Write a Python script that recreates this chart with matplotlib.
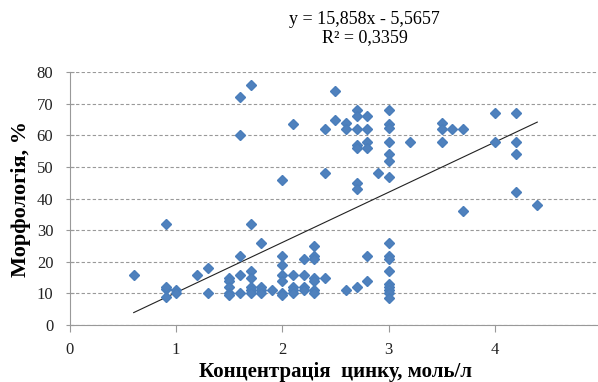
import numpy as np
import matplotlib.pyplot as plt

# concentration of zinc, mol/l
zinc = [0.6, 0.9, 0.9, 0.9, 0.9, 1.0, 1.0, 1.2, 1.3, 1.3,
        1.5, 1.5, 1.5, 1.5, 1.5,
        1.6, 1.6, 1.6, 1.6, 1.6,
        1.7, 1.7, 1.7, 1.7, 1.7, 1.7, 1.7,
        1.8, 1.8, 1.8, 1.8, 1.9,
        2.0, 2.0, 2.0, 2.0, 2.0, 2.0, 2.0,
        2.1, 2.1, 2.1, 2.1, 2.1,
        2.2, 2.2, 2.2, 2.2,
        2.3, 2.3, 2.3, 2.3, 2.3, 2.3, 2.3,
        2.4, 2.4, 2.4, 2.5, 2.5, 2.6, 2.6, 2.6,
        2.7, 2.7, 2.7, 2.7, 2.7, 2.7, 2.7, 2.7,
        2.8, 2.8, 2.8, 2.8, 2.8, 2.8, 2.9,
        3.0, 3.0, 3.0, 3.0, 3.0, 3.0, 3.0, 3.0, 3.0, 3.0,
        3.0, 3.0, 3.0, 3.0, 3.0, 3.0,
        3.2, 3.5, 3.5, 3.5, 3.6, 3.7, 3.7,
        4.0, 4.0, 4.2, 4.2, 4.2, 4.2, 4.4]

# morphology, %
morph = [16, 32, 11.5, 12, 9, 11, 10, 16, 18, 10,
         15, 14, 12, 10, 9.5,
         72, 60, 22, 16, 10,
         76, 32, 17, 15, 12, 11, 10,
         26, 12, 11, 10, 11,
         22, 19, 16, 14, 10, 9.5, 46,
         63.5, 16, 12, 11, 10,
         21, 16, 12, 11,
         25, 22, 21, 15, 14, 11, 10,
         15, 62, 48, 74, 65, 64, 62, 11,
         68, 66, 62, 57, 56, 45, 43, 12,
         66, 62, 58, 56, 22, 14, 48,
         68, 63.5, 62.5, 58, 54, 52, 47, 26,
         22, 21, 17, 13, 12, 11, 10, 8.5,
         58, 64, 62, 58, 62, 62, 36,
         67, 58, 67, 58, 54, 42, 38]

slope, intercept, r2 = 15.858, -5.5657, 0.3359

plt.rcParams['font.family'] = ['Liberation Serif', 'DejaVu Serif']

fig = plt.figure(figsize=(5.98, 3.82), dpi=100)
ax = fig.add_axes([0.117, 0.149, 0.888, 0.662])

ax.plot(zinc, morph, 'D', color='#4f81bd', ms=5, mec='#4a7ebb', zorder=3)

xl = np.array([min(zinc), max(zinc)])
ax.plot(xl, slope * xl + intercept, color='#222222', lw=0.8, zorder=2)

ax.set_xlim(0, 5)
ax.set_ylim(0, 80)
ax.set_xticks(range(0, 6))
ax.set_yticks(range(0, 81, 10))
ax.yaxis.grid(True, linestyle=(0, (3, 2)), color='#999999', lw=0.8)
ax.set_axisbelow(True)
for s in ['top', 'right']:
    ax.spines[s].set_visible(False)
for s in ['left', 'bottom']:
    ax.spines[s].set_color('#999999')
ax.tick_params(axis='y', colors='#999999', labelcolor='#222222', labelsize=12,
               direction='inout', length=6, pad=9)
ax.tick_params(axis='x', colors='#999999', labelcolor='#222222', labelsize=12,
               direction='out', length=5, pad=7)

ax.set_xlabel('Концентрація  цинку, моль/л', fontsize=15, fontweight='bold', labelpad=3)
ax.set_ylabel('Морфологія, %', fontsize=16, fontweight='bold', labelpad=4)

eq = 'y = 15,858x - 5,5657\nR² = 0,3359'
fig.text(0.61, 0.97, eq, ha='center', va='top', fontsize=13, linespacing=1.05)

fig.savefig('out.png', dpi=100)
